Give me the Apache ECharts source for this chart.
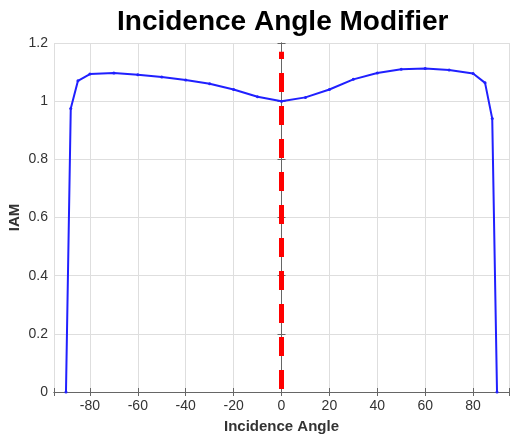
<!DOCTYPE html>
<html>
<head>
<meta charset="utf-8">
<script src="https://cdn.jsdelivr.net/npm/echarts@6/dist/echarts.min.js"></script>
<style>
  html, body { margin: 0; padding: 0; background: #fff; }
  #chart { width: 510px; height: 436px; }
</style>
</head>
<body>
<div id="chart"></div>
<script>
(function(){
  // 数据
  var angles = [-90, -88, -85, -80, -70, -60, -50, -40, -30, -20, -10, 0, 10, 20, 30, 40, 50, 60, 70, 80, 85, 88, 90];
  var iam = [0, 0.975, 1.07, 1.093, 1.097, 1.091, 1.083, 1.073, 1.06, 1.04, 1.015, 1.0, 1.013, 1.04, 1.075, 1.097, 1.11, 1.112, 1.107, 1.095, 1.063, 0.94, 0];
  var refX = [0, 0];
  var refY = [0, 1.17];
  var yTicks = [0, 0.2, 0.4, 0.6, 0.8, 1, 1.2];

  var font = '"Liberation Sans", Arial, sans-serif';
  var axisColor = '#666';
  var gridColor = '#dedede';

  var myChart = echarts.init(document.getElementById('chart'));

  function xAxisCfg(pos, main) {
    return {
      type: 'value',
      position: pos,
      min: -95,
      max: 95,
      splitNumber: 10,
      axisLine: { show: true, lineStyle: { color: axisColor } },
      axisTick: { show: true, inside: true, length: 4, lineStyle: { color: axisColor } },
      splitLine: { show: main, lineStyle: { color: gridColor } },
      axisLabel: {
        show: main,
        color: '#333',
        fontFamily: font,
        fontSize: 14,
        margin: 7,
        formatter: function (v) { return v % 20 === 0 ? String(v) : ''; }
      },
      name: main ? 'Incidence Angle' : '',
      nameLocation: 'middle',
      nameGap: 27,
      nameTextStyle: { color: '#333', fontFamily: font, fontSize: 15, fontWeight: 'bold' }
    };
  }

  function yAxisCfg(pos, main) {
    return {
      type: 'value',
      position: pos,
      min: yTicks[0],
      max: yTicks[yTicks.length - 1],
      interval: 0.2,
      axisLine: { show: true, lineStyle: { color: axisColor } },
      axisTick: { show: true, inside: true, length: 4, lineStyle: { color: axisColor } },
      splitLine: { show: main, lineStyle: { color: gridColor } },
      axisLabel: {
        show: main,
        color: '#333',
        fontFamily: font,
        fontSize: 14,
        margin: 6,
        formatter: function (v) { return String(Math.round(v * 10) / 10); }
      },
      name: main ? 'IAM' : '',
      nameLocation: 'middle',
      nameGap: 32,
      nameMoveOverlap: false,
      nameTextStyle: { color: '#333', fontFamily: font, fontSize: 15, fontWeight: 'bold' }
    };
  }

  var option = {
    animation: false,
    title: {
      text: 'Incidence Angle Modifier',
      left: 112,
      top: 3,
      textStyle: { color: '#000', fontFamily: font, fontSize: 28, fontWeight: 'bold' }
    },
    grid: { left: 54, right: 1, top: 43, bottom: 44, outerBoundsMode: 'none' },
    xAxis: [xAxisCfg('bottom', true), xAxisCfg('top', false)],
    yAxis: [yAxisCfg('left', true), yAxisCfg('right', false)],
    series: [
      {
        type: 'line',
        data: refX.map(function (x, i) { return [x, refY[i]]; }),
        symbol: 'none',
        lineStyle: { color: '#ff0000', width: 5, type: [19, 14], dashOffset: 30 },
        z: 3
      },
      {
        type: 'line',
        data: angles.map(function (a, i) { return [a, iam[i]]; }),
        symbol: 'circle',
        symbolSize: 3,
        itemStyle: { color: '#2020ff' },
        lineStyle: { color: '#2020ff', width: 2 },
        z: 4
      }
    ]
  };

  myChart.setOption(option);

  window.addEventListener('resize', function () {
    myChart.resize();
  });
})();
</script>
</body>
</html>
